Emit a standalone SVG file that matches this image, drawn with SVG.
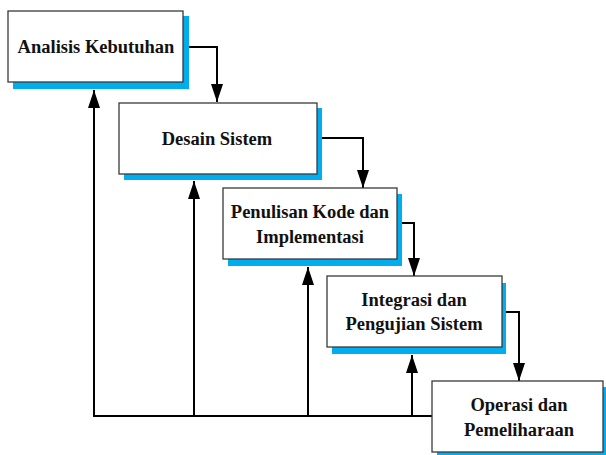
<svg xmlns="http://www.w3.org/2000/svg" width="606" height="455" viewBox="0 0 606 455">
  <style>
    .shadow { fill: #00AEEF; }
    .box { fill: #ffffff; stroke: #3a3a3a; stroke-width: 1.3; }
    .label { font-family: 'Liberation Serif', 'DejaVu Serif', serif; font-weight: 700; font-size: 18.5px; fill: #111; text-anchor: middle; }
    .link { fill: none; stroke: #000; stroke-width: 2; }
  </style>
  <defs>
    <marker id="arrow" markerUnits="userSpaceOnUse" markerWidth="18" markerHeight="12" refX="18" refY="6" orient="auto" viewBox="0 0 18 12">
      <path d="M0,0 L18,6 L0,12 Z" fill="#000"/>
    </marker>
  </defs>
  <rect width="606" height="455" fill="#ffffff"/>

  <!-- connectors -->
  <g id="connectors">
    <!-- forward flow -->
    <path class="link" d="M183,47 H217 V102" marker-end="url(#arrow)"/>
    <path class="link" d="M317,138 H363 V188" marker-end="url(#arrow)"/>
    <path class="link" d="M397,223 H414 V276" marker-end="url(#arrow)"/>
    <path class="link" d="M502,312 H519 V381" marker-end="url(#arrow)"/>
    <!-- feedback -->
    <path class="link" d="M432,416 H94"/>
    <path class="link" d="M432,416 H308" stroke-width="3"/>
    <path class="link" d="M94,417 V90" marker-end="url(#arrow)"/>
    <path class="link" d="M194,417 V181" marker-end="url(#arrow)"/>
    <path class="link" d="M308,417 V267" marker-end="url(#arrow)"/>
    <path class="link" d="M412,417 V355" marker-end="url(#arrow)"/>
  </g>

  <g id="analisis">
    <rect class="shadow" x="13" y="16" width="176" height="73"/>
    <rect class="box" x="8" y="11" width="175" height="71"/>
    <text class="label" x="96" y="53">Analisis Kebutuhan</text>
  </g>

  <g id="desain">
    <rect class="shadow" x="124" y="108" width="198" height="72"/>
    <rect class="box" x="119" y="103" width="198" height="71"/>
    <text class="label" x="217" y="145">Desain Sistem</text>
  </g>

  <g id="penulisan">
    <rect class="shadow" x="228" y="194" width="174" height="72"/>
    <rect class="box" x="223" y="188" width="174" height="71"/>
    <text class="label" x="310" y="218">Penulisan Kode dan</text>
    <text class="label" x="310" y="243">Implementasi</text>
  </g>

  <g id="integrasi">
    <rect class="shadow" x="332" y="283" width="174" height="71"/>
    <rect class="box" x="327" y="276" width="175" height="71"/>
    <text class="label" x="414" y="306">Integrasi dan</text>
    <text class="label" x="414" y="330">Pengujian Sistem</text>
  </g>

  <g id="operasi">
    <rect class="shadow" x="437" y="387" width="171" height="72"/>
    <rect class="box" x="432" y="381" width="171" height="71"/>
    <text class="label" x="519" y="411">Operasi dan</text>
    <text class="label" x="519" y="436">Pemeliharaan</text>
  </g>
</svg>
